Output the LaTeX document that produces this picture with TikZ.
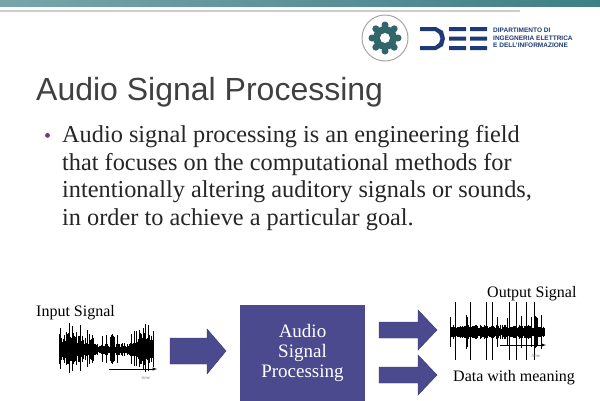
\documentclass[tikz,border=0pt]{standalone}
\usepackage{fontspec}
\setmainfont{Liberation Serif}
\setsansfont{Liberation Sans}
\definecolor{boxblue}{HTML}{4C4A8E}
\definecolor{teal1}{HTML}{3E7F86}
\definecolor{navy}{HTML}{1E3A78}
\definecolor{titlegray}{HTML}{404040}
\tikzset{
  barrowfill/.style={fill=boxblue, draw=boxblue!70!black, line width=0.4pt},
  lbl/.style={font=\fontsize{16}{17}\selectfont, text=black, inner sep=0pt},
  tm/.style={font=\itshape\fontsize{5}{6}\selectfont, text=gray, inner sep=0pt},
  logo/.style={font=\sffamily\bfseries\fontsize{6.5}{7.5}\selectfont, text=navy, align=left, inner sep=0pt}
}
\begin{document}
\begin{tikzpicture}[x=1pt,y=-1pt]
\useasboundingbox (0,0) rectangle (600,400);
\fill[white] (0,0) rectangle (600,400);
% top bars
\shade[left color=teal1!70, right color=teal1] (0,0) rectangle (600,6);
\fill[gray!40] (0,10) rectangle (520,12);
% logo
\node[circle, draw=gray!70, line width=1pt, minimum size=46pt] (seal) at (385,38) {};
\node[circle, fill=teal1!80!black, minimum size=24pt, inner sep=0pt] (gear) at (385,38) {};
\foreach \a in {0,45,...,315} \fill[teal1!80!black] (385,38) ++(\a:13) circle (3.5);
\fill[white] (385,38) circle (5);
\fill[navy] (420,27)--(436,27)--(443,31)--(445,38.5)--(443,46)--(436,50)--(420,50)--(420,46)--(435,46)--(439,43)--(440.5,38.5)--(439,34)--(435,31)--(420,31)--cycle;
\fill[navy] (449,27) rectangle (466,31) (449,36.5) rectangle (466,40.5) (449,46) rectangle (466,50);
\fill[navy] (470,27) rectangle (487,31) (470,36.5) rectangle (487,40.5) (470,46) rectangle (487,50);
\node[logo, anchor=west] (dept) at (493,38) {DIPARTIMENTO DI\\INGEGNERIA ELETTRICA\\E DELL'INFORMAZIONE};
% title
\node[anchor=base west, inner sep=0pt, font=\sffamily\fontsize{32}{34}\selectfont, text=titlegray] (title) at (36,100) {Audio Signal Processing};
% bullet
\node[anchor=base west, inner sep=0pt, text=boxblue!80!purple, font=\fontsize{20}{22}\selectfont] (dot) at (44,142) {•};
\node[anchor=north west, inner sep=0pt, align=left, font=\fontsize{24.3}{27.7}\selectfont, text=black!85] (body) at (62,125)
{Audio signal processing is an engineering field\\that focuses on the computational methods for\\intentionally altering auditory signals or sounds,\\in order to achieve a particular goal.};
% box
\fill[boxblue] (240,305) rectangle (365,402);
\node[align=center, text=white, font=\fontsize{19}{20}\selectfont, inner sep=0pt] (asp) at (302.5,353) {Audio\\Signal\\Processing};
% arrows
\coordinate (a1) at (170,351);
\filldraw[barrowfill] (170,338)--(207,338)--(207,329)--(226,351)--(207,374)--(207,364)--(170,364)--cycle;
\foreach \y/\n in {330/a2, 375/a3}{
  \coordinate (\n) at (379,\y);
  \filldraw[barrowfill] (379,\y-8)--(418,\y-8)--(418,\y-20)--(437,\y)--(418,\y+20)--(418,\y+8)--(379,\y+8)--cycle;
}
% labels
\node[lbl, anchor=base west] (inl) at (36,316) {Input Signal};
\node[lbl, anchor=base west] (outl) at (487,297) {Output Signal};
\node[lbl, anchor=base west] (dwm) at (453,381) {Data with meaning};
% input waveform
\pgfmathsetseed{7}
\foreach \i in {0,...,188}{
  \pgfmathsetmacro\xx{59+\i*0.5}
  \pgfmathsetmacro\env{ (\i<70 ? 16 : (\i<150 ? 5 : 19)) }
  \pgfmathsetmacro\h{ 2+\env*rnd + (rnd>0.93 ? 10 : 0) }
  \draw[line width=0.6pt] (\xx,350-\h) -- (\xx,350+\h*0.85);
}
\draw[-latex, line width=0.5pt] (109,369) -- (157,369);
\node[tm] (t1) at (146,378) {time};
% output waveform
\foreach \i in {0,...,188}{
  \pgfmathsetmacro\xx{450+\i*0.5}
  \pgfmathsetmacro\h{ 3+4*rnd + (rnd>0.9 ? 10 : 0) }
  \draw[line width=0.6pt] (\xx,332-\h) -- (\xx,332+\h);
}
\foreach \x in {455,470,486,492,509,516,526,534} \draw[line width=0.5pt] (\x,302) -- (\x,360);
\draw[-latex, line width=0.5pt] (500,345) -- (546,345);
\node[tm] (t2) at (536,356) {time};
\end{tikzpicture}
\end{document}
